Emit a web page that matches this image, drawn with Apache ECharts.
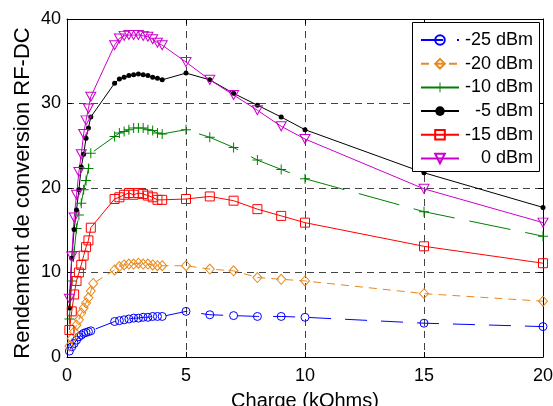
<!DOCTYPE html>
<html><head><meta charset="utf-8">
<script src="https://cdn.jsdelivr.net/npm/echarts@6/dist/echarts.min.js"></script>
<style>html,body{margin:0;padding:0;background:#fff}#c{width:553px;height:406px}</style>
</head><body><div id="c"></div>
<script>
// Load values (kOhms)
const chargeEarly = [0.1, 0.2, 0.3, 0.4, 0.5, 0.6, 0.7, 0.8, 0.9, 1.0];
const chargeEarly20 = [0.1, 0.2, 0.3, 0.4, 0.5, 0.6, 0.7, 0.8, 0.9, 1.0, 1.1];
const chargeMid = [2.0, 2.2, 2.4, 2.6, 2.8, 3.0, 3.2, 3.4, 3.6, 3.8, 4.0];
const chargeFar = [5, 6, 7, 8, 9, 10, 15, 20];

// -25 dBm
const m25Early = [0.7, 1.2, 1.6, 2.0, 2.4, 2.6, 2.8, 2.9, 3.0, 3.1];
const m25Mid = [4.2, 4.3, 4.4, 4.5, 4.6, 4.6, 4.7, 4.7, 4.8, 4.8, 4.8];
const m25Far = [5.4, 5.0, 4.9, 4.8, 4.8, 4.7, 4.0, 3.6];
// -20 dBm
const m20Early = [1.3, 2.2, 3.0, 3.8, 4.4, 5.2, 5.8, 6.4, 7.0, 7.8, 8.7];
const m20Mid = [10.3, 10.7, 10.9, 11.0, 11.0, 11.1, 11.0, 11.0, 10.9, 10.8, 10.8];
const m20Far = [10.8, 10.4, 10.2, 9.4, 9.2, 9.0, 7.5, 6.6];
// -10 dBm
const m10Early = [4.5, 9.0, 12.5, 15.2, 16.8, 18.2, 19.8, 20.9, 22.3, 24.1];
const m10Mid = [26.1, 26.5, 26.7, 26.9, 27.1, 27.1, 27.1, 26.9, 26.8, 26.5, 26.4];
const m10Far = [26.9, 26.0, 24.8, 23.3, 22.2, 21.1, 17.2, 14.3];
// -5 dBm
const m5Early = [5.8, 11.7, 15.1, 17.4, 19.8, 22.5, 24.0, 25.9, 27.1, 28.4];
const m5Mid = [32.4, 32.9, 33.1, 33.3, 33.4, 33.5, 33.4, 33.3, 33.1, 33.0, 32.8];
const m5Far = [33.6, 32.8, 31.2, 29.8, 28.4, 26.9, 21.8, 17.7];
// -15 dBm
const m15Early = [3.2, 5.4, 7.4, 9.0, 10.0, 10.9, 12.0, 13.0, 13.8, 15.3];
const m15Mid = [18.7, 18.9, 19.2, 19.4, 19.2, 19.4, 19.3, 19.1, 18.9, 18.6, 18.6];
const m15Far = [18.7, 19.0, 18.5, 17.5, 16.7, 15.9, 13.1, 11.1];
// 0 dBm
const p0Early = [6.9, 11.9, 16.5, 19.2, 21.9, 24.0, 26.4, 28.0, 29.4, 30.8];
const p0Mid = [36.9, 37.7, 38.0, 38.1, 38.1, 38.1, 38.0, 37.9, 37.6, 37.2, 36.9];
const p0Far = [34.9, 32.8, 31.0, 29.2, 27.3, 25.8, 19.9, 15.9];

const seriesNames = ['-25 dBm', '-20 dBm', '-10 dBm', '-5 dBm', '-15 dBm', '0 dBm'];
const xTicks = [0, 5, 10, 15, 20];
const yTicks = [0, 10, 20, 30, 40];

function pts(xs, ys) { return xs.map((x, i) => [x, ys[i]]); }
function build(early, xe, mid, far) {
  return pts(xe, early).concat(pts(chargeMid, mid), pts(chargeFar, far));
}

const FONT = 'Liberation Sans, Arial, Helvetica, sans-serif';
const plusPath = 'path://M4.5,0H5.5V4.5H10V5.5H5.5V10H4.5V5.5H0V4.5H4.5Z';

const defs = [
  { name: seriesNames[0], data: build(m25Early, chargeEarly, m25Mid, m25Far), color: '#0000ff', dash: [22, 14], symbol: 'circle', size: 8, open: true },
  { name: seriesNames[1], data: build(m20Early, chargeEarly20, m20Mid, m20Far), color: '#e8891c', dash: [8, 6], symbol: 'diamond', size: [9, 10], open: true },
  { name: seriesNames[2], data: build(m10Early, chargeEarly, m10Mid, m10Far), color: '#008000', dash: [42, 15], symbol: plusPath, size: 10, open: false },
  { name: seriesNames[3], data: build(m5Early, chargeEarly, m5Mid, m5Far), color: '#000000', dash: 'solid', symbol: 'circle', size: 5, open: false },
  { name: seriesNames[4], data: build(m15Early, chargeEarly, m15Mid, m15Far), color: '#ff0000', dash: 'solid', symbol: 'rect', size: 9, open: true },
  { name: seriesNames[5], data: build(p0Early, chargeEarly, p0Mid, p0Far), color: '#cc00cc', dash: 'solid', symbol: 'triangle', size: [10, 9], open: true, rotate: 180 }
];

const series = defs.map(d => ({
  type: 'line',
  name: d.name,
  data: d.data,
  symbol: d.symbol,
  symbolSize: d.size,
  symbolRotate: d.rotate || 0,
  showAllSymbol: true,
  clip: false,
  z: 2,
  lineStyle: { color: d.color, width: 1, type: d.dash },
  itemStyle: d.open
    ? { color: 'transparent', borderColor: d.color, borderWidth: 1 }
    : { color: d.color, borderWidth: 0 },
  emphasis: { disabled: true },
  animation: false
}));

const axisCommon = {
  type: 'value',
  axisLine: { show: true, onZero: false, lineStyle: { color: '#000', width: 1 } },
  axisTick: { show: true, inside: true, length: 5, lineStyle: { color: '#000' } },
};

const chart = echarts.init(document.getElementById('c'), null, { renderer: 'canvas' });
chart.setOption({
  animation: false,
  backgroundColor: '#fff',
  grid: { left: 67, right: 10, top: 19, bottom: 49, containLabel: false, outerBoundsMode: 'none' },
  xAxis: [
    Object.assign({}, axisCommon, {
      position: 'bottom', min: xTicks[0], max: xTicks[xTicks.length - 1], interval: 5,
      axisLabel: { color: '#000', fontSize: 18, fontFamily: FONT, margin: 10 },
      splitLine: { show: true, lineStyle: { color: '#444', width: 1, type: [7, 5] } },
      name: 'Charge (kOhms)', nameLocation: 'middle', nameGap: 34,
      nameTextStyle: { color: '#000', fontSize: 20, fontFamily: FONT }
    }),
    Object.assign({}, axisCommon, {
      position: 'top', min: 0, max: 20, interval: 5,
      axisLabel: { show: false }, splitLine: { show: false }
    })
  ],
  yAxis: [
    Object.assign({}, axisCommon, {
      position: 'left', min: yTicks[0], max: yTicks[yTicks.length - 1], interval: 10,
      axisLabel: { color: '#000', fontSize: 18, fontFamily: FONT, margin: 6 },
      splitLine: { show: true, lineStyle: { color: '#444', width: 1, type: [7, 5] } },
      name: 'Rendement de conversion RF-DC', nameLocation: 'middle', nameGap: 33,
      nameMoveOverlap: false,
      nameTextStyle: { color: '#000', fontSize: 22, fontFamily: FONT, padding: [0, 10, 0, 0] }
    }),
    Object.assign({}, axisCommon, {
      position: 'right', min: 0, max: 40, interval: 10,
      axisLabel: { show: false }, splitLine: { show: false }
    })
  ],
  graphic: [{
    type: 'rect', left: 412, top: 22, z: 5,
    shape: { width: 127, height: 149 },
    style: { fill: '#fff', stroke: '#000', lineWidth: 1 }
  }],
  legend: {
    orient: 'vertical', left: 412, top: 22, z: 6,
    itemWidth: 38, itemHeight: 12, itemGap: 5.7,
    padding: [9, 1, 3, 8],
    backgroundColor: 'transparent', borderWidth: 0,
    data: seriesNames,
    formatter: n => '{a|' + n + '}',
    textStyle: {
      color: '#000', fontSize: 18, fontFamily: FONT,
      rich: { a: { width: 69, align: 'right', fontSize: 18, lineHeight: 20, fontFamily: FONT, color: '#000' } }
    },
    selectedMode: false
  },
  series: series
});
</script>
</body></html>
